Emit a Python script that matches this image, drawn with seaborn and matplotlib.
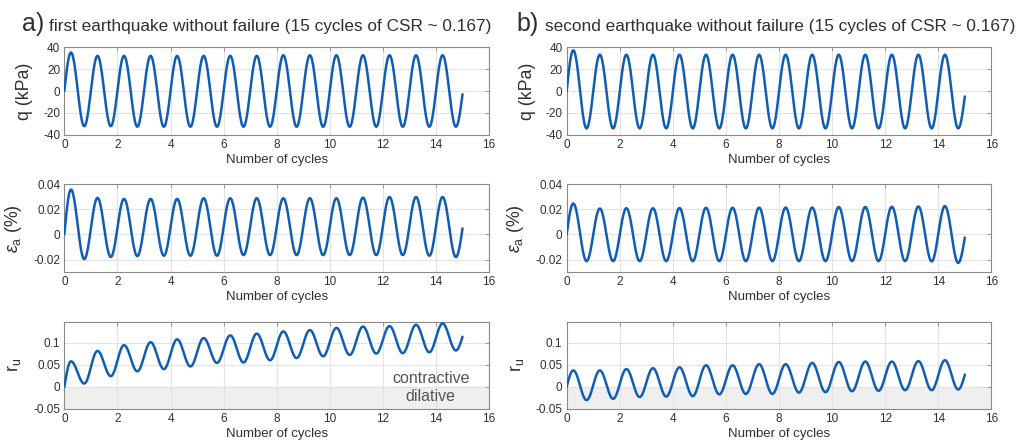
import matplotlib

matplotlib.use("Agg")
import matplotlib.pyplot as plt
import numpy as np
import pandas as pd
import seaborn as sns

# extremes (one peak and one trough per cycle)
n_cycles = 15
q_a_peaks = [35, 32, 32, 32, 32, 32, 32, 32, 32.5, 32.5, 32.5, 32.5, 32.5, 32.5, 32.5]
q_a_troughs = [-32, -32, -32.5, -32.5, -32.5, -32.5, -32.5, -32.5, -32.5, -32.5, -32.5, -32.5, -32.5, -32.5, -32.5]
q_a_end = -3
q_b_peaks = [37, 33, 33, 33, 33, 33, 33, 33, 33, 33, 33, 33, 33, 33, 33]
q_b_troughs = [-34, -34, -34, -34, -34, -34, -34, -34, -34, -34, -34, -34, -34, -34, -34]
q_b_end = -5

ea_a_peaks = [0.036, 0.0293, 0.0285, 0.0285, 0.0285, 0.029, 0.029, 0.029, 0.029, 0.029, 0.029, 0.0295, 0.030, 0.030, 0.030]
ea_a_troughs = [-0.0197, -0.018, -0.0173, -0.017, -0.017, -0.017, -0.0165, -0.0165, -0.0165, -0.0165, -0.0165, -0.0165, -0.0165, -0.017, -0.018]
ea_a_end = 0.0048
ea_b_peaks = [0.0248, 0.0208, 0.021, 0.021, 0.0212, 0.0214, 0.0214, 0.0215, 0.0216, 0.0216, 0.022, 0.022, 0.0222, 0.0224, 0.0227]
ea_b_troughs = [-0.0213, -0.0213, -0.0213, -0.0213, -0.0213, -0.0213, -0.0213, -0.0213, -0.0213, -0.0213, -0.0213, -0.0213, -0.0213, -0.0215, -0.0227]
ea_b_end = -0.0024

ru_a_peaks = [0.0575, 0.081, 0.094, 0.1007, 0.107, 0.110, 0.116, 0.120, 0.125, 0.128, 0.133, 0.136, 0.137, 0.140, 0.143]
ru_a_troughs = [0.0075, 0.024, 0.035, 0.040, 0.046, 0.054, 0.055, 0.060, 0.065, 0.069, 0.072, 0.075, 0.076, 0.078, 0.082]
ru_a_end = 0.113
ru_b_peaks = [0.037, 0.037, 0.040, 0.042, 0.044, 0.0485, 0.0485, 0.051, 0.051, 0.054, 0.056, 0.057, 0.057, 0.058, 0.060]
ru_b_troughs = [-0.030, -0.027, -0.023, -0.022, -0.021, -0.017, -0.016, -0.016, -0.013, -0.012, -0.010, -0.009, -0.0075, -0.0075, -0.006]
ru_b_end = 0.0276

titles = ["first earthquake without failure (15 cycles of CSR ~ 0.167)",
          "second earthquake without failure (15 cycles of CSR ~ 0.167)"]
panel_tags = ["a)", "b)"]
y_labels = ["q (kPa)", r"$\epsilon_\mathregular{a}$ (%)", r"r$_\mathregular{u}$"]
x_label = "Number of cycles"
x_ticks = [0, 2, 4, 6, 8, 10, 12, 14, 16]
y_ticks = [[-40, -20, 0, 20, 40], [-0.02, 0, 0.02, 0.04], [-0.05, 0, 0.05, 0.1]]
y_tick_labels = [["-40", "-20", "0", "20", "40"], ["-0.02", "0", "0.02", "0.04"], ["-0.05", "0", "0.05", "0.1"]]
y_limits = [(-40, 40), (-0.03, 0.04), (-0.05, 0.147)]

LINE = "#0F5DB5"
TEXT = "#303030"


def trace(peaks, troughs, end, start=0.0, steps=24):
    # quarter-cycle extremes joined with a smooth wave shape
    times = [0.0]
    values = [start]
    for k in range(len(peaks)):
        times += [k + 0.25, k + 0.75]
        values += [peaks[k], troughs[k]]
    times.append(float(len(peaks)))
    values.append(end)
    xs, ys = [], []
    last = len(times) - 2
    for i in range(len(times) - 1):
        s = np.linspace(0, 1, steps, endpoint=False)
        a, b = values[i], values[i + 1]
        if i == 0:
            shape = np.sin(np.pi * s / 2)
        elif i == last:
            s = np.linspace(0, 1, steps + 1)
            shape = 1 - np.cos(np.pi * s / 2)
        else:
            shape = (1 - np.cos(np.pi * s)) / 2
        xs.append(times[i] + s * (times[i + 1] - times[i]))
        ys.append(a + (b - a) * shape)
    return pd.DataFrame({"cycles": np.concatenate(xs), "value": np.concatenate(ys)})


series = [
    [(q_a_peaks, q_a_troughs, q_a_end), (ea_a_peaks, ea_a_troughs, ea_a_end), (ru_a_peaks, ru_a_troughs, ru_a_end)],
    [(q_b_peaks, q_b_troughs, q_b_end), (ea_b_peaks, ea_b_troughs, ea_b_end), (ru_b_peaks, ru_b_troughs, ru_b_end)],
]

sns.set_style("white")
plt.rcParams["font.family"] = ["Liberation Sans", "DejaVu Sans"]
plt.rcParams["mathtext.fontset"] = "custom"
plt.rcParams["mathtext.rm"] = "Liberation Sans"
plt.rcParams["mathtext.it"] = "Liberation Sans:italic"

fig = plt.figure(figsize=(10.21, 4.42), dpi=100)
col_left = [0.063, 0.555]
col_width = 0.416
row_bottom = [0.6946, 0.3846, 0.0747]
row_height = [0.199, 0.198, 0.1975]

for c in range(2):
    for r in range(3):
        ax = fig.add_axes([col_left[c], row_bottom[r], col_width, row_height[r]])
        peaks, troughs, end = series[c][r]
        frame = trace(peaks, troughs, end)
        if r == 2:
            ax.axhspan(-0.05, 0, color="#efefef", zorder=0)
        sns.lineplot(data=frame, x="cycles", y="value", ax=ax, color=LINE, linewidth=1.8, zorder=3)
        ax.set_xlim(0, 16)
        ax.set_ylim(*y_limits[r])
        ax.set_xticks(x_ticks)
        ax.set_yticks(y_ticks[r], y_tick_labels[r])
        ax.grid(True, color="#e3e3e3", linewidth=0.8)
        ax.set_axisbelow(True)
        ax.tick_params(direction="in", length=3, width=0.6, colors="#8a8a8a", labelcolor=TEXT,
                       labelsize=8.5, top=True, right=True, pad=3)
        for spine in ax.spines.values():
            spine.set_color("#8a8a8a")
            spine.set_linewidth(0.8)
        ax.set_xlabel(x_label, fontsize=9.5, color=TEXT, labelpad=2)
        ax.set_ylabel(y_labels[r], fontsize=12.8, color=TEXT, labelpad=7)
        if c == 0 and r == 2:
            ax.text(13.8, 0.019, "contractive", fontsize=11.5, color="#555555", ha="center", va="center")
            ax.text(13.8, -0.022, "dilative", fontsize=11.5, color="#555555", ha="center", va="center")

fig.text(0.0215, 0.93, panel_tags[0], fontsize=18, color=TEXT, va="baseline")
fig.text(0.048, 0.93, titles[0], fontsize=12.4, color=TEXT, va="baseline")
fig.text(0.506, 0.93, panel_tags[1], fontsize=18, color=TEXT, va="baseline")
fig.text(0.534, 0.93, titles[1], fontsize=12.4, color=TEXT, va="baseline")

fig.savefig("out.png", dpi=100)
